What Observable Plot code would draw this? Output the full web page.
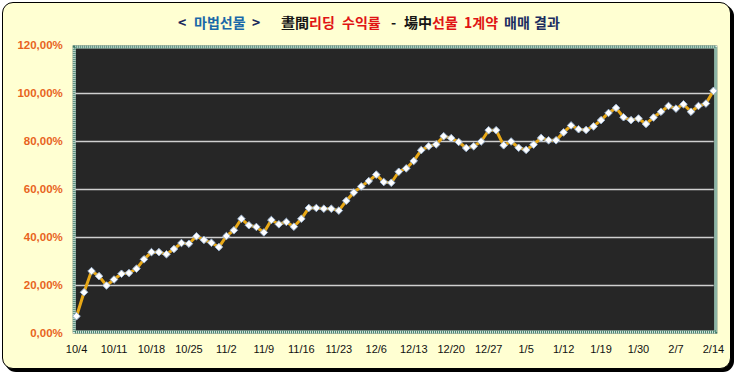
<!DOCTYPE html>
<html>
<head>
<meta charset="utf-8">
<script src="https://cdn.jsdelivr.net/npm/d3@7"></script>
<script src="https://cdn.jsdelivr.net/npm/@observablehq/plot@0.6"></script>
<style>
  html, body { margin: 0; padding: 0; background: #ffffff; }
  #page { position: relative; width: 736px; height: 377px; overflow: hidden; }
  #box { position: absolute; left: 2px; top: 2px; width: 727px; height: 365px;
         border: 1px solid #000; border-radius: 11px; background: #FFFFD2;
         box-shadow: 3px 3px 0 #000; }
  #title { position: absolute; top: 14px; left: 0; width: 736px; height: 17px;
           font-family: "Noto Sans CJK KR", sans-serif; font-weight: bold; font-size: 14px;
           line-height: 17px; white-space: pre; }
  #title span { position: absolute; top: 0; }
  #chart { position: absolute; left: 0; top: 0; }
</style>
</head>
<body>
<div id="page">
  <div id="box"></div>
  <div id="title"></div>
  <div id="chart"></div>
</div>
<script>
// Tick labels (every 5th trading day)
const tickLabels = ["10/4","10/11","10/18","10/25","11/2","11/9","11/16","11/23","12/6",
                    "12/13","12/20","12/27","1/5","1/12","1/19","1/30","2/7","2/14"];
// Cumulative return (%) per trading day
const returns = [
  7.2, 17.2, 26.0, 23.9, 20.0, 22.5, 24.9, 25.2, 27.0, 30.9,
  33.9, 33.9, 33.0, 35.2, 37.7, 37.4, 40.5, 39.0, 37.8, 36.0,
  40.6, 43.0, 47.8, 45.1, 44.4, 42.1, 47.3, 45.5, 46.5, 44.5,
  47.8, 52.3, 52.3, 52.0, 52.0, 51.2, 55.3, 58.7, 61.3, 63.5,
  66.2, 63.1, 62.8, 67.4, 68.8, 71.9, 76.4, 78.0, 78.8, 82.2,
  81.4, 79.8, 77.3, 78.0, 80.0, 84.7, 84.7, 78.4, 80.0, 77.4,
  76.5, 78.7, 81.5, 80.5, 80.5, 83.8, 86.7, 85.1, 84.8, 86.3,
  88.9, 91.9, 94.0, 90.1, 88.9, 89.6, 87.3, 90.0, 92.4, 94.8,
  93.7, 95.5, 92.4, 94.8, 95.8, 101.1
];
const yTicks = [0, 20, 40, 60, 80, 100, 120];
const gridValues = [20, 40, 60, 80, 100];

// Title pieces
const titleParts = [
  {t: "<", c: "#1c2a5c", x: 178},
  {t: "마법선물", c: "#1a68a8", x: 194},
  {t: ">", c: "#1c2a5c", x: 252},
  {t: "晝間", c: "#151515", x: 281},
  {t: "리딩", c: "#e01414", x: 309},
  {t: "수익률", c: "#e01414", x: 342},
  {t: "-", c: "#151515", x: 391},
  {t: "場中", c: "#151515", x: 404},
  {t: "선물", c: "#e01414", x: 432},
  {t: "1계약", c: "#e01414", x: 464},
  {t: "매매", c: "#1c2e60", x: 504},
  {t: "결과", c: "#1c2e60", x: 534}
];
const titleEl = document.getElementById("title");
for (const p of titleParts) {
  const s = document.createElement("span");
  s.textContent = p.t;
  s.style.color = p.c;
  s.style.left = p.x + "px";
  titleEl.appendChild(s);
}

const data = returns.map((v, i) => ({i, v}));
const tickIdx = tickLabels.map((d, k) => k * 5);

const chart = Plot.plot({
  width: 736,
  height: 377,
  marginTop: 45,
  marginBottom: 44,
  marginLeft: 72.3,
  marginRight: 19.3,
  style: {background: "transparent", fontFamily: "'Liberation Sans', Arial, sans-serif"},
  x: {domain: [-0.5, 85.5]},
  y: {domain: [0, 120]},
  marks: [
    Plot.frame({fill: "#262626", stroke: null}),
    Plot.frame({stroke: "#dcefe4", strokeWidth: 3, inset: 1.5}),
    Plot.frame({stroke: "#3d7a66", strokeWidth: 3, inset: 1.5, strokeDasharray: "1,1"}),
    Plot.ruleY(gridValues, {stroke: "#cfcfcf", strokeWidth: 1.3, insetLeft: 3, insetRight: 3}),
    Plot.axisY({ticks: yTicks, tickSize: 0, tickPadding: 10, fontSize: 11.5, fontWeight: "bold",
                color: "#E8641E", label: null,
                tickFormat: d => d.toFixed(2).replace(".", ",") + "%"}),
    Plot.axisX({ticks: tickIdx, tickSize: 0, tickPadding: 12, fontSize: 11, color: "#111",
                label: null, tickFormat: i => tickLabels[i / 5]}),
    Plot.line(data, {x: "i", y: "v", stroke: "#E8A817", strokeWidth: 3}),
    Plot.dot(data, {x: "i", y: "v", symbol: "diamond2", r: 3.4, fill: "#ffffff",
                    stroke: "#9fb6d2", strokeWidth: 1})
  ]
});
document.getElementById("chart").appendChild(chart);
</script>
</body>
</html>
